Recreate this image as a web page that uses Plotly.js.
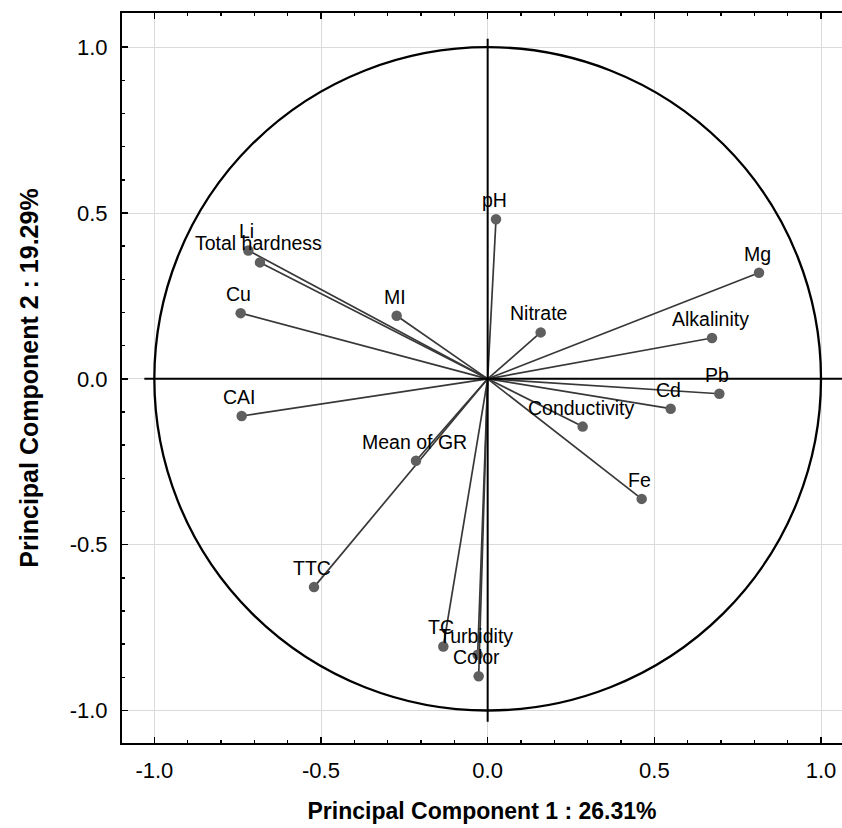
<!DOCTYPE html>
<html>
<head>
<meta charset="utf-8">
<script src="https://cdn.plot.ly/plotly-3.0.1.min.js"></script>
<style>html,body{margin:0;padding:0;background:#fff;}#chart{width:842px;height:828px;}</style>
</head>
<body>
<div id="chart"></div>
<script>
// Variable names
var variables = ['Li','Total hardness','Cu','MI','CAI','Mean of GR','pH','Nitrate','Mg','Alkalinity','Pb','Cd','Conductivity','Fe','TTC','TC','Turbidity','Color'];
// Loadings on Principal Component 1
var pc1 = [-0.718,-0.683,-0.741,-0.273,-0.738,-0.215,0.025,0.159,0.814,0.673,0.695,0.549,0.285,0.462,-0.521,-0.133,-0.030,-0.027];
// Loadings on Principal Component 2
var pc2 = [0.387,0.351,0.198,0.190,-0.112,-0.247,0.481,0.140,0.320,0.123,-0.045,-0.090,-0.144,-0.362,-0.628,-0.807,-0.832,-0.897];
// Axis tick values / labels
var tickVals = [-1.0,-0.5,0.0,0.5,1.0];
var tickText = ['-1.0','-0.5','0.0','0.5','1.0'];
var xTitle = 'Principal Component 1 : 26.31%';
var yTitle = 'Principal Component 2 : 19.29%';

// build vector segments from origin
var segX = [], segY = [];
for (var i = 0; i < variables.length; i++) {
  segX.push(0, pc1[i], null);
  segY.push(0, pc2[i], null);
}

var traces = [
  {x: segX, y: segY, mode: 'lines', type: 'scatter', line: {color: '#383838', width: 1.7}, hoverinfo: 'skip', showlegend: false},
  {x: pc1, y: pc2, mode: 'markers', type: 'scatter', marker: {color: '#5f5f5f', size: 10.5}, text: variables, showlegend: false}
];

var annotations = variables.map(function(v, i) {
  return {x: pc1[i], y: pc2[i], text: v, showarrow: false, xanchor: 'center', yanchor: 'middle',
          yshift: 19, xshift: -2, font: {family: 'Liberation Sans, Arial, sans-serif', size: 19.5, color: '#000'}};
});

var shapes = [
  {type: 'circle', xref: 'x', yref: 'y', x0: -1, y0: -1, x1: 1, y1: 1, line: {color: '#000', width: 2.3}, layer: 'above'},
  {type: 'line', xref: 'x', yref: 'y', x0: -1.03, y0: 0, x1: 1.07, y1: 0, line: {color: '#000', width: 2}, layer: 'above'},
  {type: 'line', xref: 'x', yref: 'y', x0: 0, y0: -1.034, x1: 0, y1: 1.025, line: {color: '#000', width: 2}, layer: 'above'}
];

var tickFont = {family: 'Liberation Sans, Arial, sans-serif', size: 22, color: '#000'};

var layout = {
  width: 842, height: 828,
  margin: {l: 122, r: 0, t: 13, b: 85},
  paper_bgcolor: '#fff', plot_bgcolor: '#fff',
  showlegend: false,
  xaxis: {
    range: [-1.097, 1.063], tickvals: tickVals, ticktext: tickText,
    ticks: 'inside', ticklen: 6, tickwidth: 1.5, tickcolor: '#000',
    minor: {dtick: 0.1, ticks: 'inside', ticklen: 3, tickcolor: '#000', showgrid: false},
    showline: true, linecolor: '#000', linewidth: 2, mirror: 'allticks',
    showgrid: true, gridcolor: '#dadada', gridwidth: 1, zeroline: false,
    tickfont: tickFont, ticklabelstandoff: 7,
    title: {text: '<b>' + xTitle + '</b>', font: {family: 'Liberation Sans, Arial, sans-serif', size: 23, color: '#000'}, standoff: 20}
  },
  yaxis: {
    range: [-1.098, 1.103], tickvals: tickVals, ticktext: tickText,
    ticks: 'inside', ticklen: 6, tickwidth: 1.5, tickcolor: '#000',
    minor: {dtick: 0.1, ticks: 'inside', ticklen: 3, tickcolor: '#000', showgrid: false},
    showline: true, linecolor: '#000', linewidth: 2, mirror: false,
    showgrid: true, gridcolor: '#dadada', gridwidth: 1, zeroline: false,
    tickfont: tickFont, ticklabelstandoff: 8,
    title: {text: '<b>' + yTitle + '</b>', font: {family: 'Liberation Sans, Arial, sans-serif', size: 25, color: '#000'}, standoff: 24}
  },
  annotations: annotations,
  shapes: shapes
};

Plotly.newPlot('chart', traces, layout, {displayModeBar: false, staticPlot: true});
</script>
</body>
</html>
